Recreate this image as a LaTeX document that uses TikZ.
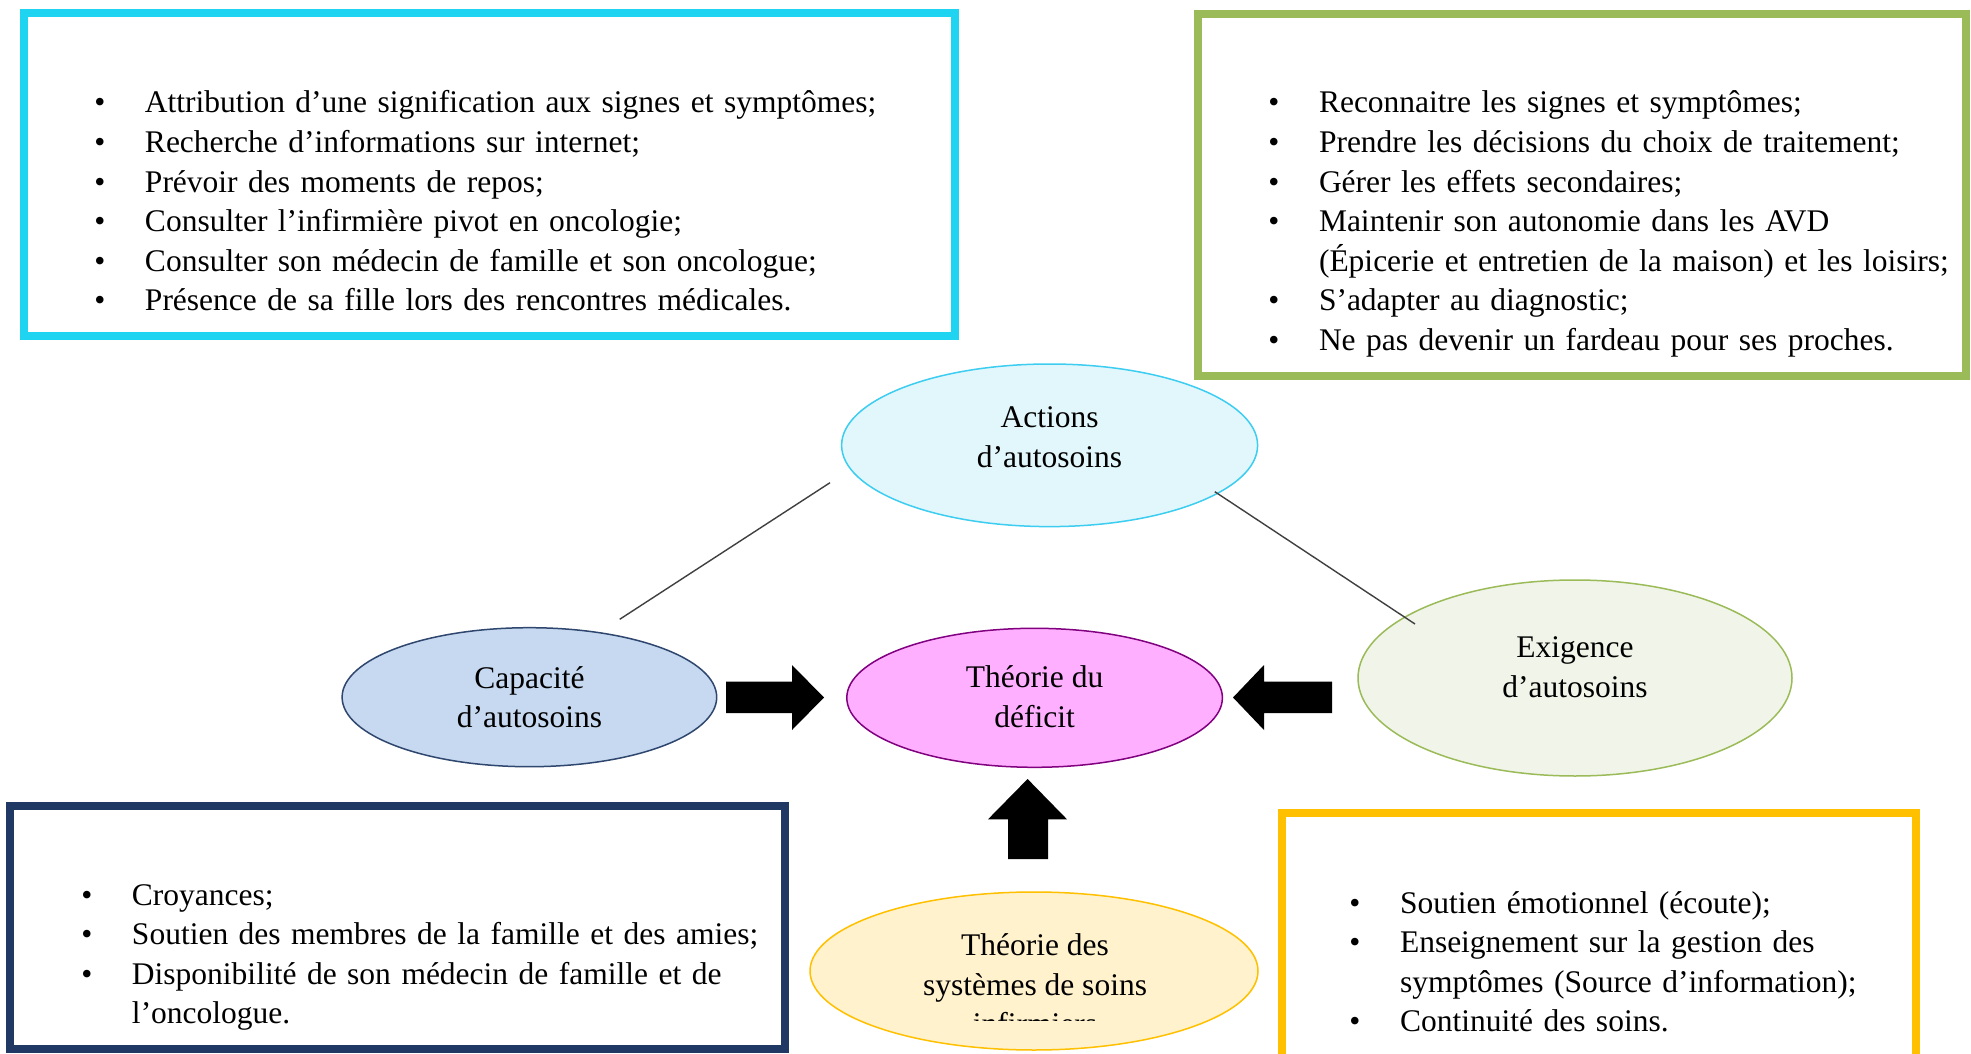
\documentclass[tikz,border=0pt]{standalone}
\usepackage{fontspec}
\setmainfont{Liberation Serif}
\usetikzlibrary{shapes.geometric}

\definecolor{boxcyan}{RGB}{30,212,240}
\definecolor{boxgreen}{RGB}{155,187,89}
\definecolor{boxnavy}{RGB}{31,56,100}
\definecolor{boxgold}{RGB}{255,192,0}
\definecolor{fillact}{RGB}{225,247,252}
\definecolor{lineact}{RGB}{60,205,240}
\definecolor{fillcap}{RGB}{198,217,240}
\definecolor{linecap}{RGB}{47,70,110}
\definecolor{filldef}{RGB}{255,175,255}
\definecolor{linedef}{RGB}{128,0,128}
\definecolor{fillexi}{RGB}{241,245,233}
\definecolor{lineexi}{RGB}{155,187,89}
\definecolor{fillsys}{RGB}{255,242,204}
\definecolor{linesys}{RGB}{255,192,0}

% bullet with its hanging indent, and the indent alone for wrapped lines
\newcommand\bul{\makebox[25.3pt][l]{\textbullet}}
\newcommand\hang{\hspace*{25.3pt}}

\begin{document}
\begin{tikzpicture}[x=0.5pt,y=-0.5pt,
  txt/.style={font=\fontsize{15.75}{19.8}\selectfont},
  frame/.style={line width=4pt},
  list/.style={txt, anchor=base west, inner sep=0pt, text width=#1, align=left},
  bubble/.style={ellipse, line width=0.75pt, inner sep=0pt},
  lbl/.style={txt, align=center, inner sep=0pt},
  link/.style={draw=black!75, line width=0.7pt},
  blockarrow/.style={fill=black}]

\useasboundingbox (0,0) rectangle (1971,1054);
\fill[white] (0,0) rectangle (1971,1054);

% ---- framed lists
\draw[frame, draw=boxcyan, fill=white] (24,13) rectangle (955,336);
\node[list=440pt] (cyanlist) at (94,113) {%
\bul Attribution d’une signification aux signes et symptômes;\\
\bul Recherche d’informations sur internet;\\
\bul Prévoir des moments de repos;\\
\bul Consulter l’infirmière pivot en oncologie;\\
\bul Consulter son médecin de famille et son oncologue;\\
\bul Présence de sa fille lors des rencontres médicales.};

\draw[frame, draw=boxgreen, fill=white] (1198,14) rectangle (1966,376);
\node[list=400pt] (greenlist) at (1268,113) {%
\bul Reconnaitre les signes et symptômes;\\
\bul Prendre les décisions du choix de traitement;\\
\bul Gérer les effets secondaires;\\
\bul Maintenir son autonomie dans les AVD\\
\hang (Épicerie et entretien de la maison) et les loisirs;\\
\bul S’adapter au diagnostic;\\
\bul Ne pas devenir un fardeau pour ses proches.};

\draw[frame, draw=boxnavy, fill=white] (10,806) rectangle (785,1049);
\node[list=360pt] (navylist) at (81,905) {%
\bul Croyances;\\
\bul Soutien des membres de la famille et des amies;\\
\bul Disponibilité de son médecin de famille et de\\
\hang l’oncologue.};

\fill[white] (1281.6,813) rectangle (1915.5,1054);
\draw[frame, draw=boxgold] (1281.6,1054) -- (1281.6,813) -- (1915.5,813) -- (1915.5,1054);
\node[list=300pt] (goldlist) at (1349,913) {%
\bul Soutien émotionnel (écoute);\\
\bul Enseignement sur la gestion des\\
\hang symptômes (Source d’information);\\
\bul Continuité des soins.};

% ---- concept ellipses
\node[bubble, draw=lineact, fill=fillact, minimum width=208pt, minimum height=81.3pt] (act) at (1049.6,445.3) {};
\node[bubble, draw=linecap, fill=fillcap, minimum width=187.3pt, minimum height=69.5pt] (cap) at (529.4,697.2) {};
\node[bubble, draw=linedef, fill=filldef, minimum width=187.8pt, minimum height=69.5pt] (def) at (1034.6,697.8) {};
\node[bubble, draw=lineexi, fill=fillexi, minimum width=217pt, minimum height=98pt] (exi) at (1575,678) {};
\node[bubble, draw=linesys, fill=fillsys, minimum width=224pt, minimum height=79pt] (sys) at (1034,971) {};

\node[lbl] (actlbl) at ([shift={(0,-8)}]act.center) {Actions\\d’autosoins};
\node[lbl] (caplbl) at (cap.center) {Capacité\\d’autosoins};
\node[lbl] (deflbl) at ([shift={(0,-1)}]def.center) {Théorie du\\déficit};
\node[lbl] (exilbl) at ([shift={(0,-11)}]exi.center) {Exigence\\d’autosoins};
\begin{scope}
  \clip (800,900) rectangle (1270,1020);
  \node[lbl] (syslbl) at ([shift={(1,13.5)}]sys.center) {Théorie des\\systèmes de soins\\infirmiers};
\end{scope}

% ---- thin links from the actions ellipse
\draw[link] ([shift={(-219.6,37.4)}]act.center) -- ([shift={(90.3,-77.9)}]cap.center);
\draw[link] ([shift={(165.2,46.4)}]act.center) -- ([shift={(-160,-54)}]exi.center);

% ---- block arrows into the deficit ellipse
\fill[blockarrow] (726,681.7) -- (792,681.7) -- (792,665) -- (824,697.5)
  -- (792,730) -- (792,713) -- (726,713) -- cycle;
\fill[blockarrow] (1332,681.7) -- (1264,681.7) -- (1264,665) -- (1233,697.5)
  -- (1264,730) -- (1264,713) -- (1332,713) -- cycle;
\fill[blockarrow] (1008,859) -- (1008,819.3) -- (988,819.3) -- (1027.6,779)
  -- (1067,819.3) -- (1048,819.3) -- (1048,859) -- cycle;

\end{tikzpicture}
\end{document}
